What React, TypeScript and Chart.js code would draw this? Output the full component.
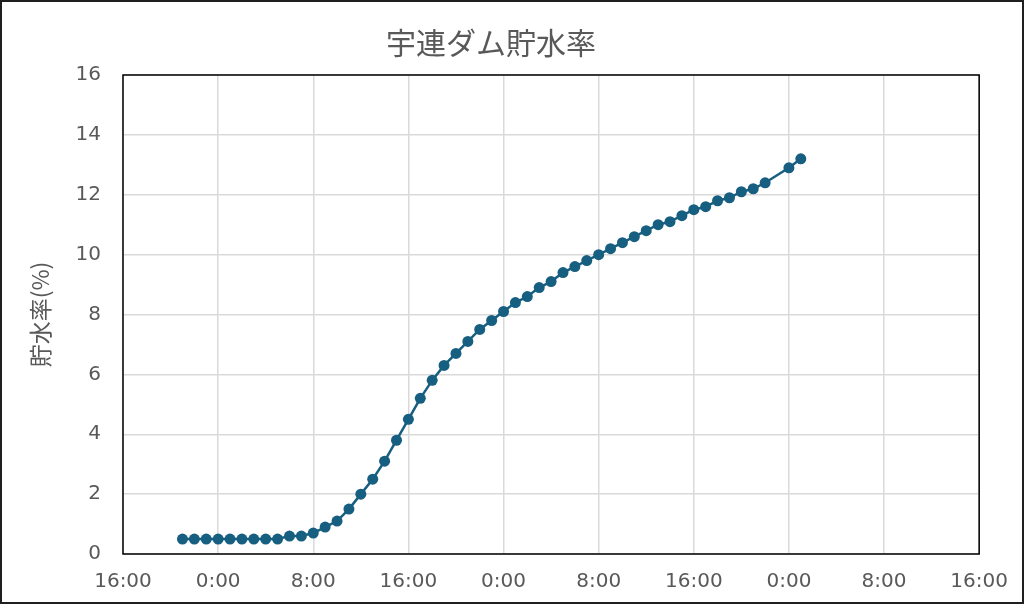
import React, { useEffect, useRef } from "react";
import { Chart, registerables } from "chart.js";

Chart.register(...registerables);

// Hours elapsed since the first x tick (16:00 on day 1)
const hours = [
  5, 6, 7, 8, 9, 10, 11, 12, 13, 14, 15, 16, 17, 18, 19, 20, 21, 22, 23, 24,
  25, 26, 27, 28, 29, 30, 31, 32, 33, 34, 35, 36, 37, 38, 39, 40, 41, 42, 43,
  44, 45, 46, 47, 48, 49, 50, 51, 52, 53, 54, 56, 57,
];

// 貯水率 (%)
const storageRate = [
  0.5, 0.5, 0.5, 0.5, 0.5, 0.5, 0.5, 0.5, 0.5, 0.6, 0.6, 0.7, 0.9, 1.1, 1.5,
  2.0, 2.5, 3.1, 3.8, 4.5, 5.2, 5.8, 6.3, 6.7, 7.1, 7.5, 7.8, 8.1, 8.4, 8.6,
  8.9, 9.1, 9.4, 9.6, 9.8, 10.0, 10.2, 10.4, 10.6, 10.8, 11.0, 11.1, 11.3,
  11.5, 11.6, 11.8, 11.9, 12.1, 12.2, 12.4, 12.9, 13.2,
];

const xTickLabels = [
  "16:00", "0:00", "8:00", "16:00", "0:00", "8:00", "16:00", "0:00", "8:00", "16:00",
];

const chartTitle = "宇連ダム貯水率";
const yAxisTitle = "貯水率(%)";

const LINE_COLOR = "#175f80";
const TEXT_COLOR = "#595959";
const GRID_COLOR = "#d9d9d9";

const framePlugin = {
  id: "frame",
  beforeDraw(chart: any) {
    const ctx = chart.ctx;
    ctx.save();
    ctx.fillStyle = "#ffffff";
    ctx.fillRect(0, 0, chart.width, chart.height);
    ctx.restore();
  },
  afterDraw(chart: any) {
    const ctx = chart.ctx;
    const a = chart.chartArea;
    ctx.save();
    ctx.strokeStyle = "#000000";
    ctx.lineWidth = 1.5;
    ctx.strokeRect(a.left, a.top, a.right - a.left, a.bottom - a.top);
    ctx.strokeStyle = "#1f1f1f";
    ctx.lineWidth = 2;
    ctx.strokeRect(1, 1, chart.width - 2, chart.height - 2);
    ctx.restore();
  },
};

export default function App() {
  const canvasRef = useRef<HTMLCanvasElement | null>(null);

  useEffect(() => {
    if (!canvasRef.current) return;
    const points = hours.map((h, i) => ({ x: h, y: storageRate[i] }));
    const chart = new Chart(canvasRef.current, {
      type: "line",
      data: {
        datasets: [
          {
            label: yAxisTitle,
            data: points,
            borderColor: LINE_COLOR,
            backgroundColor: LINE_COLOR,
            borderWidth: 2.5,
            pointRadius: 5.5,
            pointBackgroundColor: LINE_COLOR,
            pointBorderColor: LINE_COLOR,
            pointBorderWidth: 0,
            tension: 0,
            clip: false as any,
          },
        ],
      },
      options: {
        responsive: false,
        animation: false,
        layout: { padding: { left: 0, top: 0, right: 42, bottom: 0 } },
        plugins: {
          legend: { display: false },
          tooltip: { enabled: false },
          title: {
            display: true,
            text: chartTitle,
            color: TEXT_COLOR,
            font: { family: "'Noto Sans CJK JP', sans-serif", size: 30, weight: "normal" as any, lineHeight: 1.2 },
            padding: { top: 25, bottom: 14 },
          },
        },
        scales: {
          x: {
            type: "linear",
            min: 0,
            max: 72,
            grid: { color: GRID_COLOR, lineWidth: 1.5, drawTicks: false },
            border: { display: false },
            ticks: {
              stepSize: 8,
              autoSkip: false,
              maxRotation: 0,
              padding: 16,
              color: TEXT_COLOR,
              font: { family: "'DejaVu Sans', sans-serif", size: 20 },
              callback: (v: any) => xTickLabels[Math.round(Number(v) / 8)] ?? "",
            },
            afterFit: (scale: any) => {
              scale.height = 50;
            },
          },
          y: {
            min: 0,
            max: 16,
            grid: { color: GRID_COLOR, lineWidth: 1.5, drawTicks: false },
            border: { display: false },
            ticks: {
              stepSize: 2,
              padding: 22,
              color: TEXT_COLOR,
              font: { family: "'DejaVu Sans', sans-serif", size: 20 },
            },
            title: {
              display: true,
              text: yAxisTitle,
              color: TEXT_COLOR,
              font: { family: "'Noto Sans CJK JP', sans-serif", size: 23, lineHeight: 1.2 },
              padding: { top: 26, bottom: 0 },
            },
            afterFit: (scale: any) => {
              scale.width = 123;
            },
          },
        },
      },
      plugins: [framePlugin],
    });
    return () => chart.destroy();
  }, []);

  return (
    <div style={{ position: "fixed", left: 0, top: 0, width: 1024, height: 604 }}>
      <canvas ref={canvasRef} width={1024} height={604} style={{ display: "block" }} />
    </div>
  );
}
